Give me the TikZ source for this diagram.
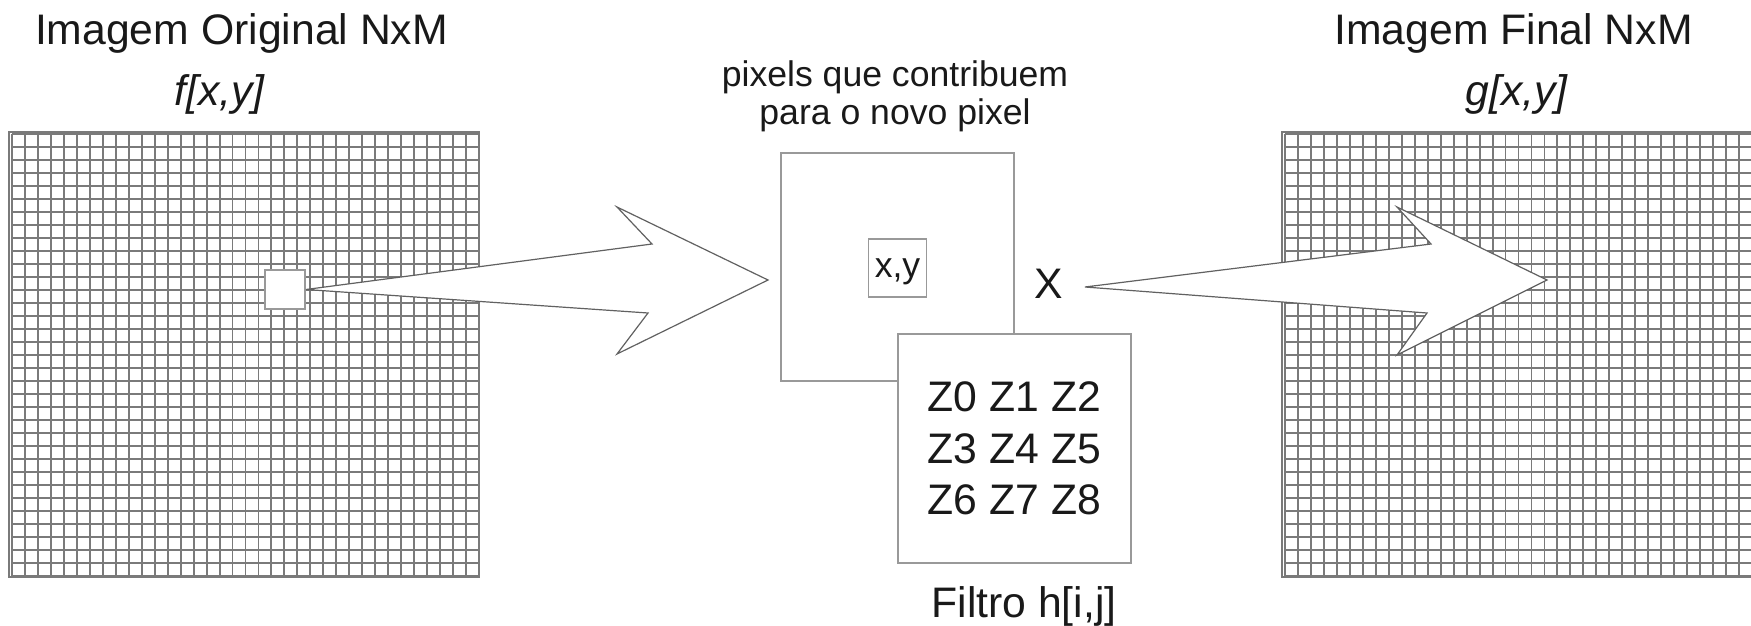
\documentclass[tikz,border=0pt]{standalone}
\usepackage{fontspec}
\setmainfont{Liberation Sans}
\usetikzlibrary{positioning}

\tikzset{
  grade/.style={draw=black!52, line width=1.9pt},
  caixa/.style={draw=black!40, line width=1.8pt, fill=white, inner sep=0pt},
  seta/.style={draw=black!62, line width=1.2pt, fill=white},
  grande/.style={font=\fontsize{42.7}{51.5}\selectfont, text=black!90, inner sep=0pt},
  media/.style={font=\fontsize{35.6}{38}\selectfont, text=black!90, inner sep=0pt}
}

\begin{document}
\begin{tikzpicture}[x=1pt,y=-1pt]
\clip (0,0) rectangle (1751,626);
\fill[white] (0,0) rectangle (1751,626);
% imagem original e imagem final
\foreach \x in {12,1285}{
	\foreach \i in {0,...,36}
		\draw[grade] (\x+12.972*\i,134) -- ++(0,442);
	\foreach \j in {0,...,34}
		\draw[grade] (\x,134+13*\j) -- ++(467,0);
	\draw[grade] (\x-3,132) rectangle (\x+467,577);
}

\node[caixa, minimum width=40pt, minimum height=39pt] (pixel) at (285,289.5) {};
\draw[seta] (pixel.east) -- (652,244) -- (617,207) -- (768,280) -- (617,354) -- (648,313) -- cycle;

\node[caixa, minimum width=233pt, minimum height=228pt] (janela) at (897.5,267) {};
\node[caixa, media, minimum size=58pt, text depth=0pt] (centro) at (897.5,268) {x,y};
\node[caixa, grande, minimum width=233pt, minimum height=229pt, align=center] (filtro) at (1014.5,448.5) {Z0 Z1 Z2\\Z3 Z4 Z5\\Z6 Z7 Z8};
\node[grande, anchor=base] (nomefiltro) at (1024,617) {Filtro h[i,j]};

\node[grande] (vezes) at (1049,284) {X};
\coordinate (cauda) at (1085,287);
\draw[seta] (cauda) -- (1431,244) -- (1397,207) -- (1547,280) -- (1397,355) -- (1427,313) -- cycle;

\node[grande, anchor=base] (titulo1) at (241.5,45) {Imagem Original NxM};
\node[grande, anchor=base] (fxy) at (220,105) {\textit{f[x,y]}};
\node[grande, anchor=base] (titulo2) at (1513.5,45) {Imagem Final NxM};
\node[grande, anchor=base] (gxy) at (1517,105) {\textit{g[x,y]}};
\node[media, anchor=base] (contrib1) at (895,86) {pixels que contribuem};
\node[media, anchor=base] (contrib2) at (895,124) {para o novo pixel};
\end{tikzpicture}
\end{document}
